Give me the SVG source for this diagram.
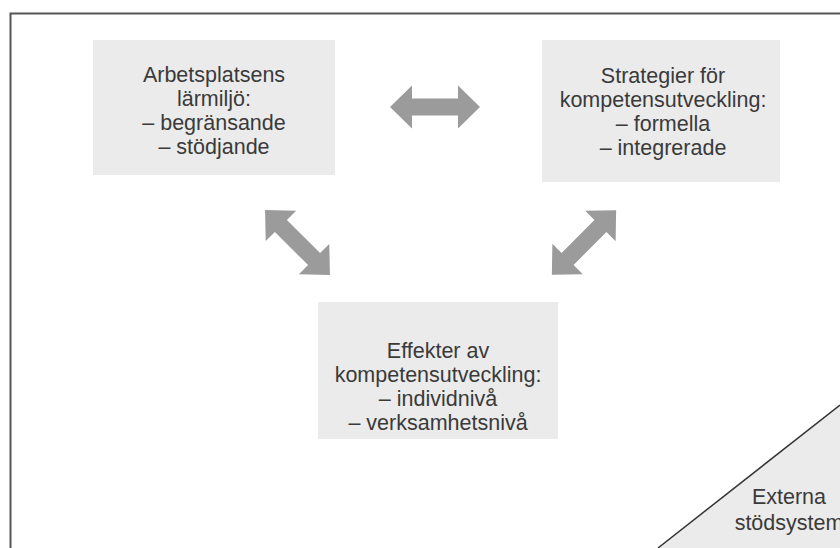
<svg xmlns="http://www.w3.org/2000/svg" width="840" height="548" viewBox="0 0 840 548">
  <style>
    .box { fill: #ebebeb; }
    .lbl { font-family: "Liberation Sans", Arial, sans-serif; font-size: 21.5px; fill: #3a3a3a; text-anchor: middle; }
    .arrow { fill: #9b9b9b; }
    .frame { stroke: #555555; stroke-width: 2; fill: none; }
  </style>
  <defs>
    <path id="dbl" d="M-45,0 L-23,-21.5 L-23,-8.5 L23,-8.5 L23,-21.5 L45,0 L23,21.5 L23,8.5 L-23,8.5 L-23,21.5 Z"/>
  </defs>
  <rect x="0" y="0" width="840" height="548" fill="#ffffff"/>
  <g id="frame">
    <path class="frame" d="M10.5,548 L10.5,13.5 L840,13.5"/>
  </g>

  <g id="node-larmiljo">
    <rect class="box" x="93" y="40" width="242" height="135"/>
    <text class="lbl" x="214" y="82">Arbetsplatsens</text>
    <text class="lbl" x="214" y="106">lärmiljö:</text>
    <text class="lbl" x="214" y="130">– begränsande</text>
    <text class="lbl" x="214" y="154">– stödjande</text>
  </g>

  <g id="node-strategier">
    <rect class="box" x="542" y="40" width="238" height="142"/>
    <text class="lbl" x="663" y="83">Strategier för</text>
    <text class="lbl" x="663" y="107">kompetensutveckling:</text>
    <text class="lbl" x="663" y="131">– formella</text>
    <text class="lbl" x="663" y="155">– integrerade</text>
  </g>

  <g id="node-effekter">
    <rect class="box" x="318" y="302" width="240" height="137"/>
    <text class="lbl" x="438" y="358">Effekter av</text>
    <text class="lbl" x="438" y="382">kompetensutveckling:</text>
    <text class="lbl" x="438" y="406">– individnivå</text>
    <text class="lbl" x="438" y="430">– verksamhetsnivå</text>
  </g>

  <g id="node-externa">
    <polygon points="658,548 840,405 840,548" fill="#ebebeb"/>
    <line x1="658" y1="548" x2="840" y2="405" stroke="#333333" stroke-width="1.5"/>
    <text class="lbl" x="789" y="504">Externa</text>
    <text class="lbl" x="789" y="530">stödsystem</text>
  </g>

  <g id="connectors">
    <use href="#dbl" class="arrow" transform="translate(435,107)"/>
    <use href="#dbl" class="arrow" transform="translate(297.5,242.5) rotate(45) scale(1.02,1)"/>
    <use href="#dbl" class="arrow" transform="translate(584,242.5) rotate(-45) scale(1.01,1)"/>
  </g>
</svg>
